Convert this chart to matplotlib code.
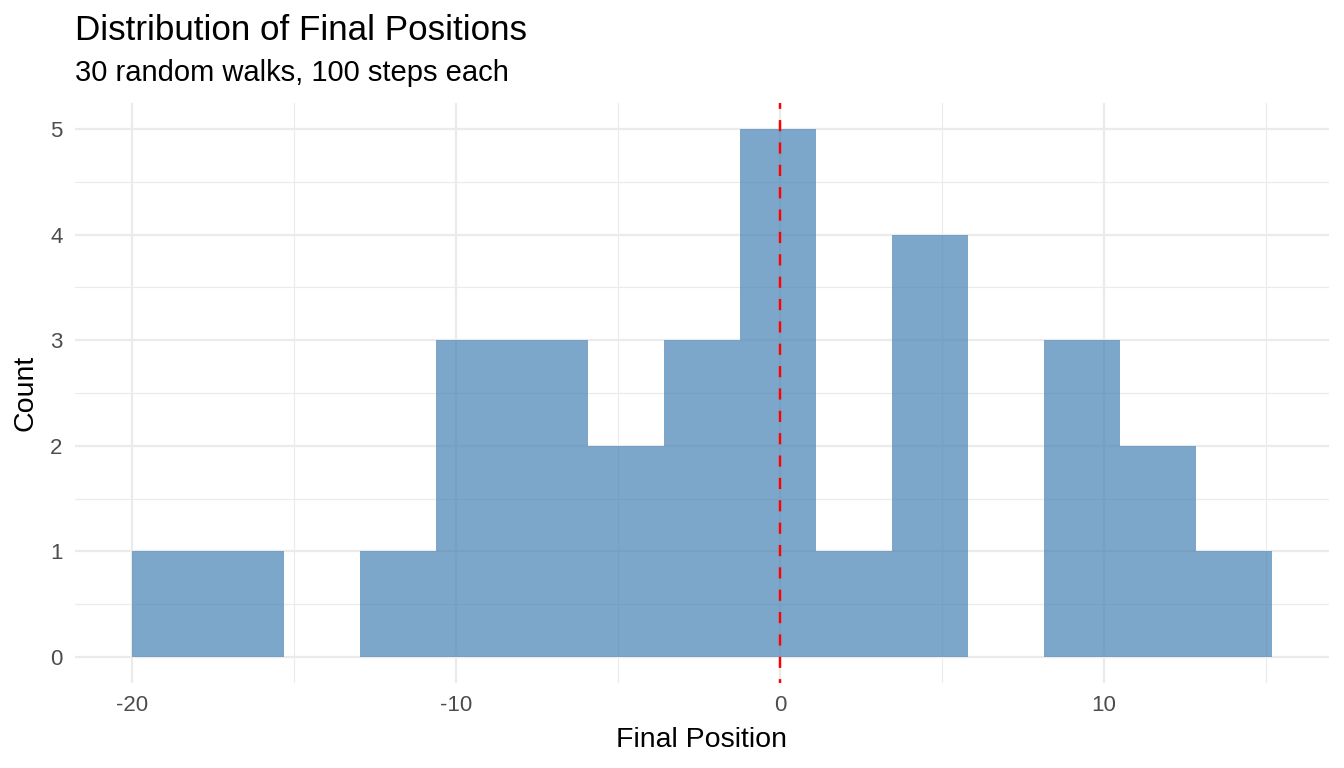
import numpy as np
import matplotlib
matplotlib.use("Agg")
import matplotlib.pyplot as plt

# Data
bin_start = -20.0
bin_width = 2.3457
counts = [1, 1, 0, 1, 3, 3, 2, 3, 5, 1, 4, 0, 3, 2, 1]
x_ticks = [-20, -10, 0, 10]
x_minor = [-15, -5, 5, 15]
y_ticks = [0, 1, 2, 3, 4, 5]
y_minor = [0.5, 1.5, 2.5, 3.5, 4.5]
ref_line = 0

title = "Distribution of Final Positions"
subtitle = "30 random walks, 100 steps each"
xlabel = "Final Position"
ylabel = "Count"

plt.rcParams['font.family'] = ['Liberation Sans', 'DejaVu Sans']
plt.rcParams['axes.unicode_minus'] = False

edges = bin_start + bin_width * np.arange(len(counts) + 1)

W, H = 1344, 768
fig = plt.figure(figsize=(W / 100, H / 100), dpi=100)
ax = fig.add_axes([75 / W, 1 - 683.4 / H, (1329 - 75) / W, (683.4 - 102.6) / H])

ax.bar(edges[:-1], counts, width=np.diff(edges), align='edge',
       color='#4682B4', alpha=0.7, linewidth=0, zorder=2)
ax.axvline(ref_line, color='#FF0000', linestyle=(3, (4.6, 4.6)), linewidth=1.75, zorder=3)

xr = edges[-1] - edges[0]
ax.set_xlim(edges[0] - 0.05 * xr, edges[-1] + 0.05 * xr)
yr = max(counts)
ax.set_ylim(-0.05 * yr, 1.05 * yr)

ax.set_xticks(x_ticks)
ax.set_yticks(y_ticks)
ax.set_xticks(x_minor, minor=True)
ax.set_yticks(y_minor, minor=True)

ax.grid(which='major', color='#EBEBEB', linewidth=1.6, zorder=0)
ax.grid(which='minor', color='#EBEBEB', linewidth=0.8, zorder=0)
ax.set_axisbelow(True)
for s in ax.spines.values():
    s.set_visible(False)
ax.tick_params(which='both', length=0, labelsize=16, labelcolor='#4D4D4D')
ax.tick_params(axis='x', pad=8)
ax.tick_params(axis='y', pad=9)

fig.text(702 / W, 1 - 747 / H, xlabel, fontsize=20.5, ha='center', va='baseline')
fig.text(25 / W, 1 - 393 / H, ylabel, fontsize=20.5, ha='center', va='center', rotation=90)

fig.text(75 / W, 1 - 39.5 / H, title, fontsize=25.2, va='baseline', ha='left')
fig.text(75 / W, 1 - 81 / H, subtitle, fontsize=21, va='baseline', ha='left')

fig.savefig('out.png', dpi=100, facecolor='white')
